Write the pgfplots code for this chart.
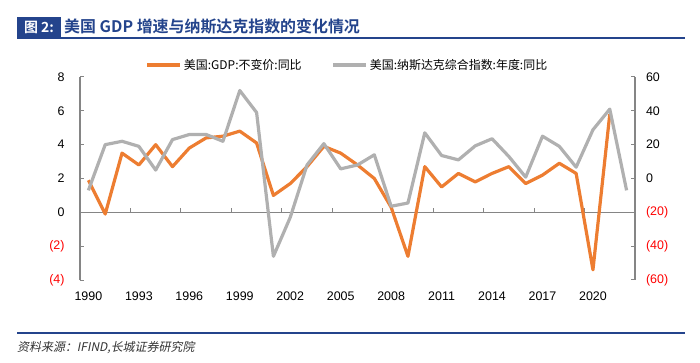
\documentclass[border=0pt]{standalone}
\usepackage{fontspec}
\usepackage{pgfplots}
\pgfplotsset{compat=1.18}
\setmainfont{Liberation Sans}
\newfontfamily\cjk{Noto Sans CJK SC}
\newfontfamily\cjkb{Noto Sans CJK SC Bold}
\newfontfamily\cjkit[FakeSlant=0.2]{Noto Sans CJK SC}
\definecolor{gdporange}{HTML}{ED7D31}
\definecolor{ndqgrey}{HTML}{B0B0B0}
\definecolor{titleblue}{RGB}{36,68,140}
\definecolor{axisgrey}{HTML}{858585}
\begin{document}
\begin{tikzpicture}
\useasboundingbox (0bp,0bp) rectangle (700bp,363bp);
% title
\fill[titleblue] (17bp,326bp) rectangle (61bp,346bp);
\node[anchor=center,text=white,font=\cjkb\fontsize{14}{16}\selectfont] at (39bp,336bp) {图 2:};
\node[anchor=west,text=titleblue,font=\cjkb\fontsize{16}{18}\selectfont,inner sep=0pt] at (64bp,336bp) {美国 GDP 增速与纳斯达克指数的变化情况};
\draw[titleblue,line width=1.5bp] (17bp,325bp) -- (685bp,325bp);
\draw[titleblue,line width=1.5bp] (17bp,30bp) -- (685bp,30bp);
\node[anchor=west,inner sep=0pt,text=black!80,font=\cjkit\fontsize{12}{14}\selectfont] at (17bp,15bp) {资料来源：IFIND,长城证券研究院};

\begin{axis}[
  at={(80bp,83bp)}, anchor=south west,
  width=555bp, height=203bp, scale only axis,
  xmin=1989.5, xmax=2022.5, ymin=-4, ymax=8,
  axis y line*=left, axis x line*=bottom,
  x axis line style={draw=none},
  y axis line style={axisgrey,line width=1.1bp},
  xtick={1990,1993,1996,1999,2002,2005,2008,2011,2014,2017,2020},
  xticklabels={1990,1993,1996,1999,2002,2005,2008,2011,2014,2017,2020},
  x tick style={draw=none},
  ytick={-4,-2,0,2,4,6,8},
  yticklabels={\textcolor{red}{(4)},\textcolor{red}{(2)},0,2,4,6,8},
  y tick style={axisgrey,line width=1bp},
  tick align=inside, major tick length=4bp,
  tick label style={font=\fontsize{12.5}{14}\selectfont},
  yticklabel style={xshift=-12bp},
  xticklabel style={yshift=-8bp},
  clip=false,
]
\draw[axisgrey,line width=1.1bp] (axis cs:1989.5,0) -- (axis cs:2022.5,0);
\draw[axisgrey,line width=1bp] (axis cs:1992.5,0) -- (axis cs:1992.5,0.24);
\draw[axisgrey,line width=1bp] (axis cs:1995.5,0) -- (axis cs:1995.5,0.24);
\draw[axisgrey,line width=1bp] (axis cs:1998.5,0) -- (axis cs:1998.5,0.24);
\draw[axisgrey,line width=1bp] (axis cs:2001.5,0) -- (axis cs:2001.5,0.24);
\draw[axisgrey,line width=1bp] (axis cs:2004.5,0) -- (axis cs:2004.5,0.24);
\draw[axisgrey,line width=1bp] (axis cs:2007.5,0) -- (axis cs:2007.5,0.24);
\draw[axisgrey,line width=1bp] (axis cs:2010.5,0) -- (axis cs:2010.5,0.24);
\draw[axisgrey,line width=1bp] (axis cs:2013.5,0) -- (axis cs:2013.5,0.24);
\draw[axisgrey,line width=1bp] (axis cs:2016.5,0) -- (axis cs:2016.5,0.24);
\draw[axisgrey,line width=1bp] (axis cs:2019.5,0) -- (axis cs:2019.5,0.24);
\addplot[gdporange,line width=3.2bp,line join=round,no marks] coordinates {
(1990,1.9) (1991,-0.1) (1992,3.5) (1993,2.8) (1994,4.0) (1995,2.7)
(1996,3.8) (1997,4.4) (1998,4.5) (1999,4.8) (2000,4.1) (2001,1.0)
(2002,1.7) (2003,2.7) (2004,3.9) (2005,3.5) (2006,2.8) (2007,2.0)
(2008,0.3) (2009,-2.6) (2010,2.7) (2011,1.5) (2012,2.3) (2013,1.8)
(2014,2.3) (2015,2.7) (2016,1.7) (2017,2.2) (2018,2.9) (2019,2.3)
(2020,-3.4) (2021,5.8)
};
\end{axis}

\begin{axis}[
  at={(80bp,83bp)}, anchor=south west,
  width=555bp, height=203bp, scale only axis,
  xmin=1989.5, xmax=2022.5, ymin=-60, ymax=60,
  axis y line*=right, axis x line=none,
  y axis line style={axisgrey,line width=1.1bp},
  ytick={-60,-40,-20,0,20,40,60},
  yticklabels={\textcolor{red}{(60)},\textcolor{red}{(40)},\textcolor{red}{(20)},0,20,40,60},
  y tick style={axisgrey,line width=1bp},
  tick align=inside, major tick length=4bp,
  tick label style={font=\fontsize{12.5}{14}\selectfont},
  yticklabel style={xshift=7.5bp},
  clip=false,
  legend style={at={(0.482,1.059)},anchor=center,draw=none,fill=none,
    font=\cjk\fontsize{12}{14}\selectfont,legend columns=2,
    /tikz/every even column/.append style={column sep=28bp}},
  legend image code/.code={\draw[#1] (0bp,0bp) -- (33bp,0bp);},
]
\addlegendimage{gdporange,line width=3.2bp}
\addlegendentry{美国:GDP:不变价:同比}
\addplot[ndqgrey,line width=3.2bp,line join=round,no marks] coordinates {
(1990,-7) (1991,20) (1992,22) (1993,19) (1994,5) (1995,23)
(1996,26) (1997,26) (1998,22) (1999,52) (2000,39) (2001,-46)
(2002,-23) (2003,8) (2004,20.6) (2005,5.7) (2006,8) (2007,14)
(2008,-16.4) (2009,-14.5) (2010,27) (2011,13.6) (2012,11) (2013,19.3)
(2014,23.5) (2015,13) (2016,0.8) (2017,25) (2018,19) (2019,6.7)
(2020,28.8) (2021,41) (2022,-7)
};
\addlegendentry{美国:纳斯达克综合指数:年度:同比}
\end{axis}
\end{tikzpicture}
\end{document}
